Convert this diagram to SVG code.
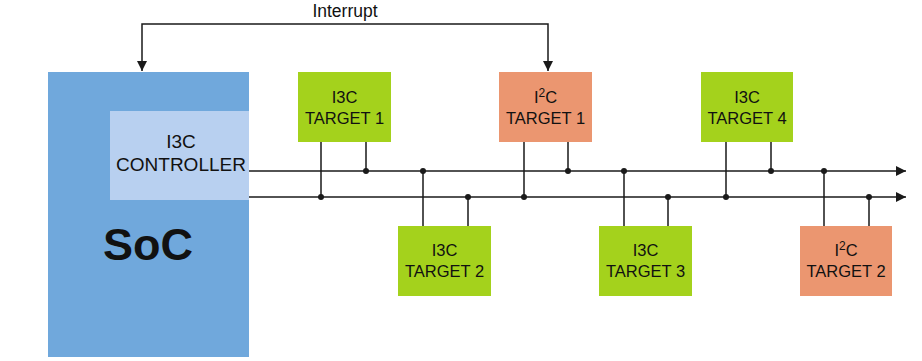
<svg xmlns="http://www.w3.org/2000/svg" width="922" height="361" viewBox="0 0 922 361">
<style>
text{font-family:"Liberation Sans",Arial,sans-serif;fill:#111;text-anchor:middle}
.t{font-size:16.5px}
.c{font-size:19px}
.sup{font-size:12px}
.i3c{fill:#a4d21c}
.i2c{fill:#eb9670}
.ln{stroke:#1a1a1a;stroke-width:1.5;fill:none}
.dot{fill:#1a1a1a}
</style>
<defs>
<marker id="ah" viewBox="0 0 10 10" refX="10" refY="5" markerWidth="10" markerHeight="10" markerUnits="userSpaceOnUse" orient="auto-start-reverse">
<path d="M0,0 L10,5 L0,10 z" fill="#1a1a1a"/>
</marker>
</defs>
<rect width="922" height="361" fill="#fff"/>
<g id="soc">
<rect x="48" y="72" width="201" height="285" fill="#70a8dc"/>
<text x="148" y="260" style="font-size:45px;font-weight:bold">SoC</text>
</g>
<g id="controller">
<rect x="110" y="111" width="139" height="89" fill="#b8d0f0"/>
<text class="c" x="181" y="148">I3C</text>
<text class="c" x="181" y="171">CONTROLLER</text>
</g>
<g id="connectors">
<path class="ln" d="M142,71 V24 H548 V71" marker-start="url(#ah)" marker-end="url(#ah)"/>
<text x="345" y="17" style="font-size:17.5px">Interrupt</text>
<path class="ln" d="M249,171 H906" marker-end="url(#ah)"/>
<path class="ln" d="M249,197 H906" marker-end="url(#ah)"/>
<path class="ln" d="M321,142 V197 M366,142 V171 M524,142 V197 M568,142 V171 M726,142 V197 M771,142 V171 M423,171 V226 M468,197 V226 M624,171 V226 M668,197 V226 M824,171 V226 M869,197 V226"/>
<circle class="dot" cx="321" cy="197" r="3"/>
<circle class="dot" cx="366" cy="171" r="3"/>
<circle class="dot" cx="524" cy="197" r="3"/>
<circle class="dot" cx="568" cy="171" r="3"/>
<circle class="dot" cx="726" cy="197" r="3"/>
<circle class="dot" cx="771" cy="171" r="3"/>
<circle class="dot" cx="423" cy="171" r="3"/>
<circle class="dot" cx="468" cy="197" r="3"/>
<circle class="dot" cx="624" cy="171" r="3"/>
<circle class="dot" cx="668" cy="197" r="3"/>
<circle class="dot" cx="824" cy="171" r="3"/>
<circle class="dot" cx="869" cy="197" r="3"/>
</g>
<g id="i3c-target-1">
<rect class="i3c" x="298" y="72" width="93" height="70"/>
<text class="t" x="344.5" y="103">I3C</text>
<text class="t" x="344.5" y="124">TARGET 1</text>
</g>
<g id="i2c-target-1">
<rect class="i2c" x="499" y="72" width="93" height="70"/>
<text class="t" x="545.5" y="103">I<tspan class="sup" dy="-6">2</tspan><tspan dy="6">C</tspan></text>
<text class="t" x="545.5" y="124">TARGET 1</text>
</g>
<g id="i3c-target-4">
<rect class="i3c" x="701" y="72" width="92" height="70"/>
<text class="t" x="747" y="103">I3C</text>
<text class="t" x="747" y="124">TARGET 4</text>
</g>
<g id="i3c-target-2">
<rect class="i3c" x="398" y="226" width="93" height="70"/>
<text class="t" x="444.5" y="256">I3C</text>
<text class="t" x="444.5" y="277">TARGET 2</text>
</g>
<g id="i3c-target-3">
<rect class="i3c" x="599" y="226" width="93" height="70"/>
<text class="t" x="645.5" y="256">I3C</text>
<text class="t" x="645.5" y="277">TARGET 3</text>
</g>
<g id="i2c-target-2">
<rect class="i2c" x="800" y="226" width="92" height="70"/>
<text class="t" x="846" y="256">I<tspan class="sup" dy="-6">2</tspan><tspan dy="6">C</tspan></text>
<text class="t" x="846" y="277">TARGET 2</text>
</g>
</svg>
